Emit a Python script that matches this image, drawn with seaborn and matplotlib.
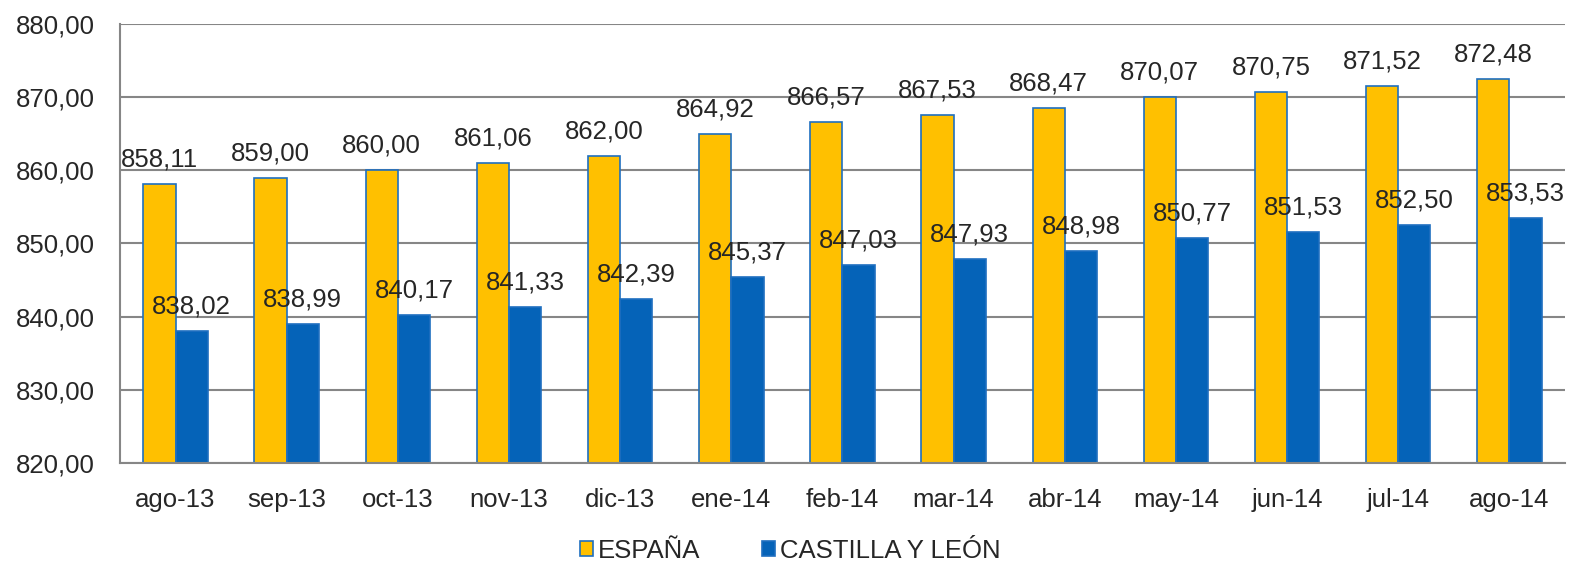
import pandas as pd
import numpy as np
import matplotlib
matplotlib.use("Agg")
import matplotlib.pyplot as plt
import seaborn as sns

months = ["ago-13", "sep-13", "oct-13", "nov-13", "dic-13", "ene-14", "feb-14",
          "mar-14", "abr-14", "may-14", "jun-14", "jul-14", "ago-14"]
espana = [858.11, 859.00, 860.00, 861.06, 862.00, 864.92, 866.57,
          867.53, 868.47, 870.07, 870.75, 871.52, 872.48]
castilla = [838.02, 838.99, 840.17, 841.33, 842.39, 845.37, 847.03,
            847.93, 848.98, 850.77, 851.53, 852.50, 853.53]
series = ["ESPAÑA", "CASTILLA Y LEÓN"]
colors = ["#FFC000", "#0563B8"]

df = pd.DataFrame({
    "mes": months * 2,
    "valor": espana + castilla,
    "serie": [series[0]] * len(months) + [series[1]] * len(months),
})

sns.set_style("white")
plt.rcParams["font.family"] = ["Liberation Sans", "DejaVu Sans"]
fs = 18.5

fig = plt.figure(figsize=(15.8, 5.63), dpi=100)
ax = fig.add_axes([0.0759, 0.1776, 0.9146, 0.7798])

sns.barplot(
    data=df,
    x="mes",
    y="valor",
    hue="serie",
    hue_order=series,
    palette=colors,
    saturation=1,
    width=0.58,
    edgecolor="#1F6FC0",
    linewidth=1.2,
    legend=False,
    ax=ax,
)

for cont in ax.containers:
    ax.bar_label(
        cont,
        labels=[f"{v:.2f}".replace(".", ",") for v in cont.datavalues],
        padding=9,
        fontsize=fs,
    )

ax.set_ylim(820, 880)
ax.set_xlim(-0.5, len(months) - 0.5)
ax.set_yticks(np.arange(820, 881, 10))
ax.set_yticklabels([f"{v:.2f}".replace(".", ",") for v in np.arange(820, 881, 10)], fontsize=fs)
ax.tick_params(axis="x", which="major", length=0, labelsize=fs, pad=18)
ax.set_xticks(np.arange(-0.5, len(months), 1), minor=True)
ax.tick_params(axis="x", which="minor", length=6, width=1.5, color="#868686")
ax.tick_params(axis="y", length=6, width=1.5, color="#868686", pad=12)

ax.yaxis.grid(True, color="#868686", linewidth=1.5)
ax.set_axisbelow(True)
for s in ["top", "right"]:
    ax.spines[s].set_visible(False)
for s in ["left", "bottom"]:
    ax.spines[s].set_color("#868686")
    ax.spines[s].set_linewidth(1.5)

ax.set_xlabel("")
ax.set_ylabel("")

handles = [plt.Rectangle((0, 0), 1, 1, facecolor=c, edgecolor="#1F6FC0", linewidth=1.2) for c in colors]
fig.legend(handles, series, loc="center", bbox_to_anchor=(0.5, 0.022), ncol=2,
           frameon=False, fontsize=fs, handlelength=0.5, handleheight=0.5,
           handletextpad=0.2, columnspacing=2.4, borderpad=0)

plt.savefig("out.png", dpi=100)
